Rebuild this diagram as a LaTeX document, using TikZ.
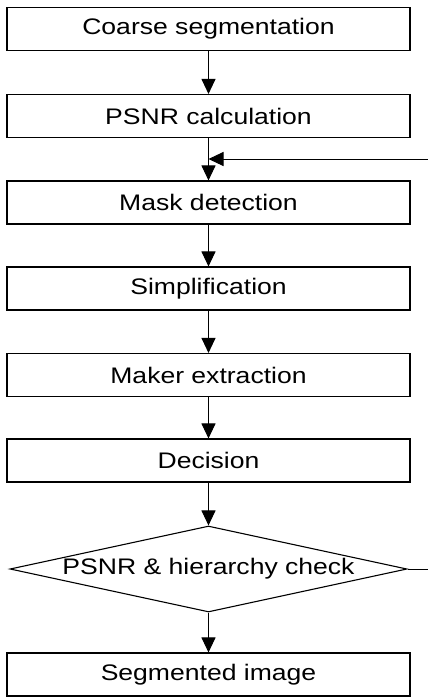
\documentclass[tikz,border=0pt]{standalone}
\usepackage{fontspec}
\setmainfont{Liberation Sans}[FakeStretch=1.18]
\usetikzlibrary{shapes.geometric,arrows.meta}
\begin{document}
\begin{tikzpicture}[x=1pt,y=-1pt,
  font=\fontsize{22.5}{26}\selectfont,
  stepbox/.style={draw, line width=1.1pt, rectangle, minimum width=403pt, minimum height=43pt, inner sep=0pt},
  checkbox/.style={draw, line width=1.1pt, diamond, aspect=4.62, minimum width=397pt, minimum height=86pt, inner sep=0pt},
  flow/.style={line width=1pt, -{Triangle[length=15pt,width=14pt]}},
  plain/.style={line width=1pt}]
\useasboundingbox (0,0) rectangle (428,697);
\node[stepbox] (coarse) at (208.5,29) {Coarse segmentation};
\node[stepbox] (psnr) at (208.5,116) {PSNR calculation};
\node[stepbox] (mask) at (208.5,202.5) {Mask detection};
\node[stepbox] (simp) at (208.5,288.5) {Simplification};
\node[stepbox] (maker) at (208.5,375) {Maker extraction};
\node[stepbox] (dec) at (208.5,460.5) {Decision};
\node[checkbox] (check) at (208.5,569) {PSNR \& hierarchy check};
\node[stepbox] (seg) at (208.5,674.5) {Segmented image};
\coordinate (fbin) at (428,159);
\coordinate (fbout) at (428,569);
\draw[flow] (coarse) -- (psnr);
\draw[flow] (psnr) -- (mask);
\draw[flow] (mask) -- (simp);
\draw[flow] (simp) -- (maker);
\draw[flow] (maker) -- (dec);
\draw[flow] (dec) -- (check);
\draw[flow] (check) -- (seg);
\draw[flow] (fbin) -- (psnr.south |- fbin);
\draw[plain] (check.east) -- (fbout);
\end{tikzpicture}
\end{document}
